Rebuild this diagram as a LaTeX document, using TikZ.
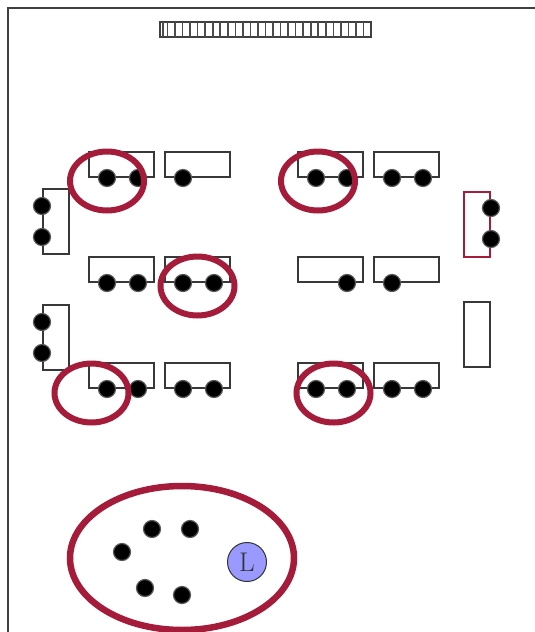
\documentclass[tikz,border=0pt]{standalone}
\begin{document}
\begin{tikzpicture}[x=1pt,y=-1pt,
  frame/.style={draw=black!75,line width=1.6pt},
  tablebox/.style={draw=black!78,line width=1.6pt,fill=white},
  redbox/.style={draw={rgb,255:red,165;green,28;blue,58},line width=1.4pt,fill=white},
  seat/.style={circle,fill=black,draw=black!65,line width=1.2pt,minimum size=17pt,inner sep=0pt},
  ring/.style={draw={rgb,255:red,165;green,28;blue,58},line width=6pt},
  bigring/.style={draw={rgb,255:red,165;green,28;blue,58},line width=6.5pt},
  cell/.style={draw=black!70,line width=1.6pt},
  lnode/.style={circle,fill={rgb,255:red,153;green,153;blue,255},draw=black!80,line width=1pt,minimum size=39pt,inner sep=0pt,font=\fontsize{27}{27}\selectfont,text=black!80}
]
\useasboundingbox (0,0) rectangle (535,632);
% frame
\coordinate (f1) at (8,640);
\coordinate (f2) at (8,8);
\coordinate (f3) at (540,8);
\draw[frame] (f1) -- (f2) -- (f3);
% top bar
\node[draw=black!75,line width=1.6pt,minimum width=211pt,minimum height=15pt,inner sep=0pt] (bar) at (265.5,29.5) {};
\foreach \i in {1,...,27} {
  \draw[cell] ({160+\i*211/28},22) -- ({160+\i*211/28},37);
}
\draw[cell] (163,22) -- (163,37);
% tables
\foreach \r/\y in {1/152,2/257,3/363} {
  \foreach \c/\x in {A/89,B/165,C/298,D/374} {
    \node[tablebox,minimum width=65pt,minimum height=25pt,inner sep=0pt] (t\c\r) at ({\x+32.5},{\y+12.5}) {};
  }
}
% side boxes
\node[tablebox,minimum width=26pt,minimum height=65pt,inner sep=0pt] (sl1) at (56,221.5) {};
\node[tablebox,minimum width=26pt,minimum height=65pt,inner sep=0pt] (sl2) at (56,337.5) {};
\node[redbox,minimum width=26pt,minimum height=65pt,inner sep=0pt] (sr1) at (477,224.5) {};
\node[tablebox,minimum width=26pt,minimum height=65pt,inner sep=0pt] (sr2) at (477,334.5) {};
% seats
\foreach \n/\x/\y in {a1/107/178,a2/138/178,a3/183/178,a4/316/178,a5/347/178,a6/392/178,a7/423/178,
  b1/107/283,b2/138/283,b3/183/283,b4/214/283,b5/347/283,b6/392/283,
  c1/107/389,c2/138/389,c3/183/389,c4/214/389,c5/316/389,c6/347/389,c7/392/389,c8/423/389,
  l1/42/206,l2/42/237,l3/42/322,l4/42/353,r1/491/208,r2/491/239,
  p1/152/529,p2/190/529,p3/122/552,p4/145/588,p5/182/595} {
  \node[seat] (s\n) at (\x,\y) {};
}
% groups
\draw[ring] (107,181) ellipse [x radius=37,y radius=29.5];
\draw[ring] (318,181) ellipse [x radius=37,y radius=29.5];
\draw[ring] (197.5,286) ellipse [x radius=37,y radius=29.5];
\draw[ring] (91.5,393) ellipse [x radius=37,y radius=29.5];
\draw[ring] (333.5,393) ellipse [x radius=37,y radius=29.5];
\draw[bigring] (182,558) ellipse [x radius=112,y radius=72];
\node[lnode] (L) at (247,562) {L};
\end{tikzpicture}
\end{document}
